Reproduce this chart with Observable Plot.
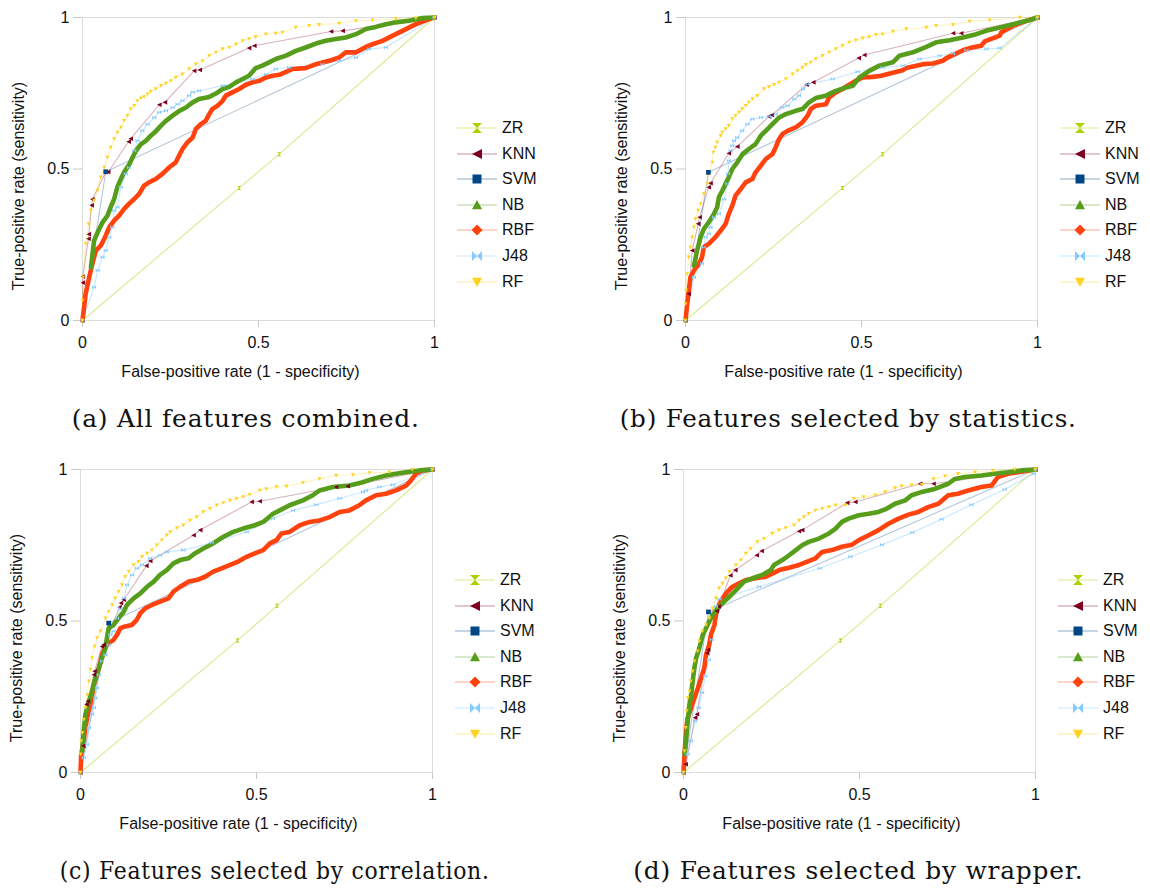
<!DOCTYPE html>
<html>
<head>
<meta charset="utf-8">
<script src="https://cdn.jsdelivr.net/npm/d3@7"></script>
<script src="https://cdn.jsdelivr.net/npm/@observablehq/plot@0.6"></script>
<style>
  html, body { margin: 0; padding: 0; background: #fff; }
  #root { position: relative; width: 1150px; height: 889px; overflow: hidden; font-family: "Liberation Sans", Arial, sans-serif; }
  .panel { position: absolute; }
  .legend { position: absolute; font-family: "Liberation Sans", Arial, sans-serif; font-size: 16px; color: #111; }
  .legend .row { position: absolute; left: 0; height: 20px; white-space: nowrap; }
  .legend svg { position: absolute; left: 0; top: 3px; }
  .legend span { position: absolute; left: 45px; top: 0; line-height: 20px; }
  .caption { position: absolute; font-family: "DejaVu Serif", serif; font-size: 25px; letter-spacing: 0.8px; color: #111; white-space: nowrap; }
</style>
</head>
<body>
<div id="root"></div>
<script>
// ---------- labels ----------
const series = ["ZR", "KNN", "SVM", "NB", "RBF", "J48", "RF"];
const seriesColors = ["#aecf00", "#7e0021", "#004586", "#579d1c", "#ff420e", "#83caff", "#ffd320"];
const ticks = [0, 0.5, 1];
const tickLabels = ["0", "0.5", "1"];
const xLabel = "False-positive rate (1 - specificity)";
const yLabel = "True-positive rate (sensitivity)";
const captions = ["(a) All features combined.", "(b) Features selected by statistics.", "(c) Features selected by correlation.", "(d) Features selected by wrapper."];

// ---------- (a) All features combined ----------
const zrA = [[0,0],[0.445,0.437],[0.559,0.549],[1,1]];
const knnA = [[0,0],[0.001,0.125],[0.001,0.145],[0.017,0.27],[0.018,0.285],[0.026,0.38],[0.028,0.40],[0.066,0.49],[0.073,0.49],[0.131,0.59],[0.137,0.60],[0.218,0.712],[0.234,0.72],[0.317,0.824],[0.333,0.827],[0.473,0.899],[0.488,0.907],[0.706,0.954],[0.739,0.956],[1,1]];
const svmA = [[0,0],[0.066,0.491],[1,1]];
const nbA = [[0,0],[0.024,0.176],[0.033,0.264],[0.043,0.291],[0.057,0.324],[0.071,0.346],[0.080,0.374],[0.090,0.401],[0.099,0.440],[0.109,0.467],[0.118,0.489],[0.133,0.516],[0.142,0.538],[0.152,0.560],[0.166,0.582],[0.180,0.593],[0.194,0.610],[0.208,0.624],[0.223,0.643],[0.237,0.659],[0.256,0.676],[0.275,0.692],[0.294,0.703],[0.313,0.720],[0.331,0.731],[0.360,0.738],[0.379,0.749],[0.398,0.764],[0.417,0.771],[0.436,0.786],[0.455,0.797],[0.473,0.808],[0.492,0.833],[0.511,0.841],[0.530,0.852],[0.549,0.863],[0.578,0.874],[0.606,0.890],[0.634,0.901],[0.663,0.914],[0.691,0.923],[0.720,0.929],[0.748,0.934],[0.777,0.945],[0.805,0.962],[0.833,0.969],[0.862,0.978],[0.890,0.984],[0.928,0.989],[0.966,0.998],[1,1]];
const rbfA = [[0,0],[0.009,0.088],[0.019,0.143],[0.028,0.187],[0.038,0.231],[0.052,0.247],[0.066,0.280],[0.076,0.308],[0.090,0.330],[0.104,0.346],[0.118,0.368],[0.132,0.385],[0.147,0.401],[0.161,0.418],[0.175,0.445],[0.189,0.456],[0.208,0.467],[0.227,0.484],[0.246,0.505],[0.265,0.522],[0.284,0.566],[0.298,0.588],[0.313,0.604],[0.322,0.632],[0.336,0.648],[0.350,0.659],[0.360,0.681],[0.369,0.698],[0.384,0.709],[0.398,0.725],[0.407,0.742],[0.426,0.753],[0.445,0.764],[0.464,0.778],[0.483,0.786],[0.502,0.791],[0.521,0.802],[0.540,0.808],[0.559,0.811],[0.597,0.830],[0.634,0.833],[0.663,0.846],[0.701,0.857],[0.729,0.868],[0.748,0.885],[0.777,0.885],[0.805,0.903],[0.824,0.912],[0.852,0.923],[0.890,0.945],[0.909,0.956],[0.947,0.978],[0.985,0.995],[1,1]];
const j48A = [[0,0],[0.033,0.110],[0.043,0.165],[0.057,0.209],[0.066,0.231],[0.076,0.275],[0.085,0.308],[0.090,0.363],[0.099,0.374],[0.109,0.440],[0.123,0.484],[0.132,0.505],[0.147,0.560],[0.156,0.593],[0.170,0.626],[0.185,0.648],[0.204,0.670],[0.218,0.687],[0.237,0.692],[0.256,0.703],[0.270,0.714],[0.284,0.725],[0.303,0.742],[0.313,0.753],[0.331,0.758],[0.398,0.775],[0.483,0.797],[0.521,0.813],[0.549,0.830],[0.587,0.835],[0.682,0.846],[0.729,0.857],[0.777,0.868],[0.814,0.896],[0.862,0.901],[1,1]];
const rfA = [[0,0],[0,0.066],[0.002,0.143],[0.009,0.253],[0.017,0.319],[0.024,0.363],[0.033,0.396],[0.043,0.429],[0.052,0.473],[0.062,0.505],[0.071,0.538],[0.080,0.571],[0.090,0.599],[0.099,0.621],[0.109,0.637],[0.118,0.659],[0.128,0.676],[0.137,0.698],[0.147,0.709],[0.156,0.725],[0.166,0.734],[0.175,0.738],[0.185,0.747],[0.194,0.756],[0.208,0.764],[0.223,0.775],[0.237,0.782],[0.251,0.791],[0.265,0.802],[0.284,0.813],[0.303,0.830],[0.322,0.846],[0.341,0.857],[0.360,0.874],[0.379,0.885],[0.398,0.896],[0.417,0.901],[0.436,0.912],[0.455,0.923],[0.473,0.929],[0.492,0.936],[0.521,0.945],[0.549,0.947],[0.568,0.951],[0.606,0.967],[0.644,0.973],[0.672,0.976],[0.729,0.980],[0.777,0.989],[0.824,0.991],[0.890,0.995],[0.947,0.998],[1,1]];

// ---------- (b) Features selected by statistics ----------
const zrB = [[0,0],[0.446,0.437],[0.560,0.549],[1,1]];
const knnB = [[0,0],[0.009,0.088],[0.019,0.231],[0.036,0.319],[0.040,0.341],[0.066,0.440],[0.071,0.453],[0.123,0.552],[0.147,0.574],[0.237,0.673],[0.245,0.678],[0.344,0.778],[0.363,0.786],[0.492,0.866],[0.508,0.876],[0.760,0.948],[0.783,0.948],[1,1]];
const svmB = [[0,0],[0.065,0.489],[1,1]];
const nbB = [[0,0],[0.024,0.181],[0.033,0.231],[0.043,0.275],[0.052,0.302],[0.066,0.324],[0.081,0.352],[0.090,0.374],[0.095,0.407],[0.105,0.429],[0.114,0.451],[0.123,0.473],[0.133,0.500],[0.147,0.522],[0.162,0.549],[0.180,0.566],[0.199,0.582],[0.214,0.610],[0.228,0.626],[0.247,0.648],[0.266,0.670],[0.285,0.681],[0.313,0.692],[0.332,0.698],[0.351,0.720],[0.370,0.734],[0.399,0.742],[0.427,0.758],[0.456,0.769],[0.475,0.775],[0.494,0.802],[0.522,0.824],[0.551,0.841],[0.589,0.852],[0.608,0.874],[0.646,0.885],[0.684,0.903],[0.712,0.918],[0.750,0.925],[0.788,0.934],[0.826,0.945],[0.854,0.956],[0.893,0.967],[0.931,0.978],[0.969,0.989],[1,1]];
const rbfB = [[0,0],[0.005,0.055],[0.014,0.143],[0.024,0.165],[0.038,0.187],[0.047,0.209],[0.052,0.242],[0.066,0.253],[0.085,0.275],[0.100,0.297],[0.114,0.319],[0.123,0.352],[0.133,0.379],[0.142,0.412],[0.157,0.434],[0.171,0.456],[0.190,0.467],[0.199,0.489],[0.214,0.511],[0.228,0.533],[0.247,0.549],[0.256,0.571],[0.266,0.599],[0.275,0.615],[0.290,0.626],[0.313,0.637],[0.332,0.654],[0.347,0.676],[0.356,0.698],[0.370,0.709],[0.399,0.714],[0.408,0.736],[0.427,0.753],[0.446,0.764],[0.465,0.778],[0.484,0.791],[0.503,0.802],[0.532,0.804],[0.556,0.808],[0.617,0.826],[0.627,0.833],[0.675,0.846],[0.703,0.848],[0.731,0.857],[0.741,0.866],[0.788,0.892],[0.807,0.899],[0.840,0.907],[0.850,0.921],[0.893,0.940],[0.897,0.951],[0.931,0.973],[0.969,0.989],[1,1]];
const j48B = [[0,0],[0.024,0.143],[0.047,0.187],[0.052,0.242],[0.057,0.275],[0.066,0.286],[0.071,0.308],[0.081,0.341],[0.095,0.352],[0.110,0.400],[0.119,0.451],[0.121,0.484],[0.123,0.527],[0.128,0.560],[0.133,0.577],[0.138,0.593],[0.147,0.604],[0.161,0.626],[0.176,0.648],[0.190,0.665],[0.214,0.670],[0.237,0.673],[0.256,0.681],[0.275,0.703],[0.290,0.709],[0.309,0.731],[0.323,0.742],[0.334,0.764],[0.347,0.780],[0.418,0.797],[0.489,0.821],[0.560,0.835],[0.617,0.841],[0.665,0.863],[0.722,0.874],[0.760,0.881],[0.798,0.892],[0.855,0.896],[0.893,0.899],[1,1]];
const rfB = [[0,0],[0,0.055],[0.002,0.099],[0.005,0.154],[0.009,0.209],[0.014,0.242],[0.019,0.275],[0.024,0.308],[0.028,0.335],[0.036,0.363],[0.043,0.385],[0.052,0.418],[0.062,0.451],[0.066,0.484],[0.076,0.522],[0.079,0.555],[0.085,0.571],[0.090,0.588],[0.100,0.610],[0.104,0.621],[0.114,0.632],[0.123,0.643],[0.133,0.665],[0.142,0.676],[0.152,0.687],[0.161,0.698],[0.171,0.709],[0.180,0.720],[0.190,0.731],[0.204,0.742],[0.223,0.764],[0.237,0.771],[0.252,0.778],[0.266,0.786],[0.285,0.797],[0.304,0.813],[0.318,0.824],[0.332,0.835],[0.342,0.844],[0.356,0.852],[0.370,0.863],[0.389,0.874],[0.408,0.885],[0.427,0.896],[0.446,0.907],[0.465,0.918],[0.484,0.925],[0.503,0.932],[0.522,0.936],[0.541,0.943],[0.560,0.945],[0.589,0.954],[0.627,0.962],[0.684,0.967],[0.712,0.973],[0.760,0.976],[0.807,0.987],[0.864,0.991],[0.950,1.0],[1,1]];

// ---------- (c) Features selected by correlation ----------
const zrC = [[0,0],[0.446,0.436],[0.558,0.550],[1,1]];
const knnC = [[0,0],[0.008,0.088],[0.017,0.225],[0.021,0.235],[0.038,0.323],[0.040,0.334],[0.061,0.416],[0.066,0.422],[0.111,0.545],[0.115,0.559],[0.123,0.570],[0.187,0.682],[0.198,0.698],[0.321,0.783],[0.340,0.800],[0.486,0.893],[0.509,0.895],[0.726,0.942],[0.759,0.945],[1,1]];
const svmC = [[0,0],[0.080,0.493],[1,1]];
const nbC = [[0,0],[0.005,0.071],[0.009,0.137],[0.014,0.192],[0.019,0.214],[0.024,0.235],[0.033,0.268],[0.042,0.312],[0.052,0.345],[0.061,0.378],[0.071,0.411],[0.075,0.444],[0.080,0.476],[0.094,0.487],[0.108,0.509],[0.123,0.531],[0.132,0.553],[0.151,0.575],[0.170,0.591],[0.189,0.613],[0.208,0.630],[0.226,0.652],[0.245,0.668],[0.264,0.690],[0.283,0.701],[0.307,0.707],[0.325,0.723],[0.349,0.739],[0.377,0.756],[0.406,0.778],[0.434,0.794],[0.462,0.805],[0.495,0.816],[0.519,0.827],[0.547,0.854],[0.566,0.865],[0.594,0.882],[0.632,0.898],[0.660,0.915],[0.679,0.931],[0.717,0.942],[0.764,0.947],[0.802,0.958],[0.830,0.969],[0.868,0.980],[0.896,0.986],[0.925,0.991],[0.962,0.997],[1,1]];
const rbfC = [[0,0],[0.002,0.060],[0.009,0.104],[0.014,0.148],[0.021,0.192],[0.028,0.225],[0.033,0.257],[0.038,0.290],[0.047,0.323],[0.055,0.356],[0.061,0.389],[0.071,0.416],[0.080,0.427],[0.094,0.438],[0.104,0.455],[0.113,0.476],[0.127,0.482],[0.146,0.487],[0.160,0.504],[0.170,0.526],[0.184,0.542],[0.203,0.553],[0.226,0.564],[0.250,0.575],[0.264,0.597],[0.283,0.613],[0.307,0.630],[0.330,0.635],[0.354,0.646],[0.377,0.663],[0.401,0.674],[0.425,0.685],[0.448,0.696],[0.472,0.712],[0.495,0.723],[0.519,0.734],[0.538,0.756],[0.557,0.767],[0.571,0.789],[0.594,0.794],[0.623,0.816],[0.651,0.827],[0.679,0.832],[0.708,0.843],[0.736,0.860],[0.764,0.865],[0.792,0.882],[0.811,0.898],[0.840,0.915],[0.868,0.920],[0.896,0.931],[0.925,0.947],[0.939,0.964],[0.953,0.986],[0.972,0.997],[1,1]];
const j48C = [[0,0],[0.009,0.049],[0.019,0.093],[0.024,0.148],[0.033,0.192],[0.038,0.214],[0.042,0.246],[0.047,0.279],[0.052,0.323],[0.061,0.367],[0.071,0.389],[0.080,0.422],[0.085,0.455],[0.094,0.466],[0.104,0.509],[0.113,0.542],[0.123,0.575],[0.132,0.619],[0.146,0.652],[0.160,0.674],[0.175,0.685],[0.198,0.707],[0.226,0.717],[0.245,0.728],[0.292,0.734],[0.373,0.758],[0.472,0.794],[0.547,0.838],[0.604,0.865],[0.670,0.884],[0.736,0.904],[0.802,0.926],[0.811,0.931],[0.849,0.942],[0.887,0.950],[1,1]];
const rfC = [[0,0],[0,0.060],[0.002,0.104],[0.005,0.131],[0.009,0.175],[0.014,0.214],[0.019,0.257],[0.024,0.301],[0.028,0.340],[0.033,0.378],[0.040,0.416],[0.047,0.444],[0.057,0.466],[0.071,0.509],[0.080,0.531],[0.090,0.553],[0.099,0.575],[0.108,0.597],[0.118,0.619],[0.127,0.646],[0.137,0.663],[0.151,0.685],[0.165,0.696],[0.175,0.712],[0.189,0.723],[0.203,0.734],[0.217,0.750],[0.231,0.767],[0.245,0.783],[0.255,0.794],[0.274,0.807],[0.292,0.816],[0.311,0.832],[0.330,0.843],[0.349,0.860],[0.368,0.871],[0.387,0.882],[0.406,0.890],[0.425,0.898],[0.443,0.904],[0.462,0.909],[0.481,0.917],[0.509,0.931],[0.528,0.936],[0.557,0.942],[0.585,0.945],[0.632,0.956],[0.679,0.969],[0.726,0.980],[0.774,0.982],[0.821,0.989],[0.877,0.991],[0.943,1.0],[1,1]];

// ---------- (d) Features selected by wrapper ----------
const zrD = [[0,0],[0.446,0.436],[0.559,0.550],[1,1]];
const knnD = [[0,0],[0.006,0.027],[0.033,0.181],[0.038,0.192],[0.067,0.394],[0.070,0.405],[0.094,0.533],[0.100,0.548],[0.133,0.650],[0.147,0.668],[0.208,0.717],[0.222,0.731],[0.328,0.796],[0.337,0.800],[0.465,0.890],[0.488,0.893],[0.672,0.953],[0.710,0.953],[1,1]];
const svmD = [[0,0],[0.071,0.530],[1,1]];
const nbD = [[0,0],[0.003,0.060],[0.008,0.115],[0.012,0.170],[0.017,0.225],[0.022,0.257],[0.026,0.301],[0.031,0.345],[0.036,0.378],[0.045,0.411],[0.055,0.455],[0.064,0.476],[0.073,0.498],[0.083,0.520],[0.097,0.542],[0.111,0.559],[0.130,0.580],[0.149,0.602],[0.172,0.630],[0.196,0.641],[0.224,0.652],[0.248,0.668],[0.257,0.685],[0.281,0.701],[0.300,0.717],[0.319,0.734],[0.337,0.750],[0.356,0.761],[0.385,0.772],[0.413,0.789],[0.432,0.805],[0.450,0.827],[0.469,0.838],[0.498,0.849],[0.526,0.854],[0.554,0.860],[0.578,0.871],[0.601,0.887],[0.630,0.898],[0.648,0.915],[0.677,0.926],[0.714,0.936],[0.752,0.953],[0.771,0.969],[0.799,0.975],[0.846,0.980],[0.884,0.986],[0.922,0.991],[0.959,0.997],[1,1]];
const rbfD = [[0,0],[0.003,0.060],[0.008,0.148],[0.012,0.181],[0.022,0.214],[0.031,0.246],[0.041,0.279],[0.050,0.312],[0.059,0.345],[0.064,0.389],[0.073,0.422],[0.078,0.455],[0.088,0.487],[0.092,0.520],[0.101,0.553],[0.111,0.575],[0.125,0.597],[0.139,0.613],[0.158,0.624],[0.177,0.635],[0.205,0.641],[0.234,0.646],[0.253,0.657],[0.272,0.668],[0.300,0.676],[0.328,0.685],[0.352,0.696],[0.375,0.707],[0.394,0.728],[0.422,0.734],[0.450,0.745],[0.479,0.752],[0.498,0.767],[0.526,0.783],[0.554,0.800],[0.582,0.821],[0.611,0.838],[0.639,0.851],[0.667,0.860],[0.695,0.876],[0.724,0.887],[0.752,0.915],[0.780,0.920],[0.809,0.931],[0.846,0.942],[0.875,0.947],[0.893,0.975],[0.922,0.986],[0.959,0.993],[1,1]];
const j48D = [[0,0],[0.012,0.060],[0.021,0.104],[0.033,0.170],[0.043,0.214],[0.053,0.263],[0.062,0.318],[0.072,0.372],[0.080,0.438],[0.092,0.548],[0.102,0.573],[0.215,0.613],[0.387,0.674],[0.474,0.712],[0.564,0.752],[0.650,0.792],[0.733,0.836],[0.818,0.884],[0.912,0.934],[0.995,0.986],[1,1]];
const rfD = [[0,0],[0.003,0.071],[0.006,0.148],[0.009,0.203],[0.012,0.246],[0.017,0.268],[0.021,0.301],[0.026,0.334],[0.031,0.367],[0.040,0.400],[0.045,0.433],[0.054,0.466],[0.064,0.487],[0.074,0.509],[0.083,0.542],[0.092,0.575],[0.101,0.608],[0.111,0.624],[0.120,0.641],[0.130,0.663],[0.149,0.685],[0.163,0.701],[0.177,0.723],[0.191,0.739],[0.210,0.761],[0.229,0.772],[0.252,0.789],[0.271,0.800],[0.290,0.807],[0.314,0.816],[0.328,0.832],[0.342,0.843],[0.356,0.854],[0.375,0.865],[0.394,0.871],[0.413,0.876],[0.432,0.882],[0.460,0.882],[0.484,0.904],[0.512,0.909],[0.545,0.915],[0.573,0.926],[0.601,0.939],[0.620,0.945],[0.648,0.948],[0.677,0.950],[0.710,0.969],[0.743,0.978],[0.780,0.986],[0.828,0.991],[0.879,0.996],[0.941,1.0],[1,1]];

// ---------- symbols ----------
const rad = (size) => Math.sqrt(size / Math.PI);
const symHourglass = { draw(c, s) { const r = rad(s); c.moveTo(-r, -r); c.lineTo(r, -r); c.lineTo(-r, r); c.lineTo(r, r); c.closePath(); } };
const symTriLeft = { draw(c, s) { const r = rad(s); c.moveTo(-r, 0); c.lineTo(r, -r); c.lineTo(r, r); c.closePath(); } };
const symSquare = { draw(c, s) { const r = rad(s) * 0.9; c.rect(-r, -r, 2 * r, 2 * r); } };
const symTriUp = { draw(c, s) { const r = rad(s); c.moveTo(0, -r); c.lineTo(r, r * 0.85); c.lineTo(-r, r * 0.85); c.closePath(); } };
const symDiamond = { draw(c, s) { const r = rad(s) * 1.1; c.moveTo(0, -r); c.lineTo(r, 0); c.lineTo(0, r); c.lineTo(-r, 0); c.closePath(); } };
const symBowtie = { draw(c, s) { const r = rad(s); c.moveTo(-r, -r); c.lineTo(r, r); c.lineTo(r, -r); c.lineTo(-r, r); c.closePath(); } };
const symTriDown = { draw(c, s) { const r = rad(s); c.moveTo(-r, -r * 0.85); c.lineTo(r, -r * 0.85); c.lineTo(0, r); c.closePath(); } };
const symbols = [symHourglass, symTriLeft, symSquare, symTriUp, symDiamond, symBowtie, symTriDown];
const dotR = [2.0, 2.3, 2.6, 2.2, 2.2, 2.0, 2.0];
const lineOpacity = [0.45, 0.3, 0.3, 0.35, 0.35, 0.45, 0.3];

const panels = [
  { data: [zrA, knnA, svmA, nbA, rbfA, j48A, rfA], left: 0, top: 0, cap: [246, 418, 348] },
  { data: [zrB, knnB, svmB, nbB, rbfB, j48B, rfB], left: 603, top: 0, cap: [848, 418, 457] },
  { data: [zrC, knnC, svmC, nbC, rbfC, j48C, rfC], left: -2, top: 452, cap: [275, 870, 430] },
  { data: [zrD, knnD, svmD, nbD, rbfD, j48D, rfD], left: 601, top: 452, cap: [858, 870, 450] }
];

const root = document.getElementById("root");
const X = d => d[0], Y = d => d[1];

panels.forEach((p, pi) => {
  const marks = [
    Plot.frame({ stroke: "#dcdcdc", strokeWidth: 1 }),
    Plot.axisX(ticks, { tickSize: 7, tickPadding: 9, tickFormat: (d, i) => tickLabels[i], stroke: "#c8c8c8", color: "#111", label: null, fontSize: 16 }),
    Plot.axisY(ticks, { tickSize: 9, tickPadding: 4, tickFormat: (d, i) => tickLabels[i], stroke: "#c8c8c8", color: "#111", label: null, fontSize: 16 }),
    Plot.text([xLabel], { frameAnchor: "bottom", dy: 56, dx: -18, text: d => d, fontSize: 16, fill: "#111" }),
    Plot.text([yLabel], { frameAnchor: "left", textAnchor: "middle", dx: -64, dy: 17, rotate: -90, text: d => d, fontSize: 16, fill: "#111" })
  ];
  // thin connecting lines
  p.data.forEach((arr, i) => {
    marks.push(Plot.line(arr, { x: X, y: Y, stroke: seriesColors[i], strokeOpacity: lineOpacity[i], strokeWidth: 1.1 }));
  });
  // dense curves (RBF then NB) drawn thick
  [4, 3].forEach(i => {
    const arr = p.data[i].filter((d, k) => i === 4 || k > 0);
    marks.push(Plot.line(arr, { x: X, y: Y, stroke: seriesColors[i], strokeWidth: 4.6, strokeLinejoin: "round", strokeLinecap: "round" }));
  });
  // markers
  [0, 1, 5, 6, 2].forEach(i => {
    const arr = i === 2 ? p.data[i].filter(d => d[0] > 0 && d[0] < 1) : p.data[i];
    marks.push(Plot.dot(arr, { x: X, y: Y, symbol: symbols[i], r: dotR[i], fill: seriesColors[i], stroke: "none" }));
  });

  const chart = Plot.plot({
    width: 450,
    height: 400,
    marginLeft: 82,
    marginRight: 16,
    marginTop: 17,
    marginBottom: 80,
    x: { domain: [0, 1], axis: null },
    y: { domain: [0, 1], axis: null },
    style: { fontFamily: "'Liberation Sans', Arial, sans-serif", fontSize: "16px", color: "#111", background: "transparent", overflow: "visible" },
    marks
  });
  const wrap = document.createElement("div");
  wrap.className = "panel";
  wrap.style.left = p.left + "px";
  wrap.style.top = p.top + "px";
  wrap.appendChild(chart);
  root.appendChild(wrap);

  // legend
  const lg = document.createElement("div");
  lg.className = "legend";
  lg.style.left = (p.left + 457) + "px";
  lg.style.top = (p.top + 118) + "px";
  series.forEach((name, i) => {
    const row = document.createElement("div");
    row.className = "row";
    row.style.top = (i * 25.6) + "px";
    const svg = d3.create("svg").attr("width", 42).attr("height", 14);
    svg.append("line").attr("x1", 0).attr("x2", 40).attr("y1", 7).attr("y2", 7)
      .attr("stroke", seriesColors[i]).attr("stroke-opacity", 0.45).attr("stroke-width", 1.2);
    svg.append("path").attr("transform", "translate(20,7)")
      .attr("d", d3.symbol(symbols[i], Math.PI * 25)()).attr("fill", seriesColors[i]);
    row.appendChild(svg.node());
    const sp = document.createElement("span");
    sp.textContent = name;
    row.appendChild(sp);
    lg.appendChild(row);
  });
  root.appendChild(lg);

  // caption, fitted to the reference width
  const cap = document.createElement("div");
  cap.className = "caption";
  cap.textContent = captions[pi];
  root.appendChild(cap);
  const w = cap.getBoundingClientRect().width;
  const h = cap.getBoundingClientRect().height;
  const k = p.cap[2] / w;
  cap.style.left = (p.cap[0] - w / 2) + "px";
  cap.style.top = (p.cap[1] - h / 2) + "px";
  cap.style.transformOrigin = "50% 50%";
  cap.style.transform = "scaleX(" + k.toFixed(3) + ")";
});
</script>
</body>
</html>
